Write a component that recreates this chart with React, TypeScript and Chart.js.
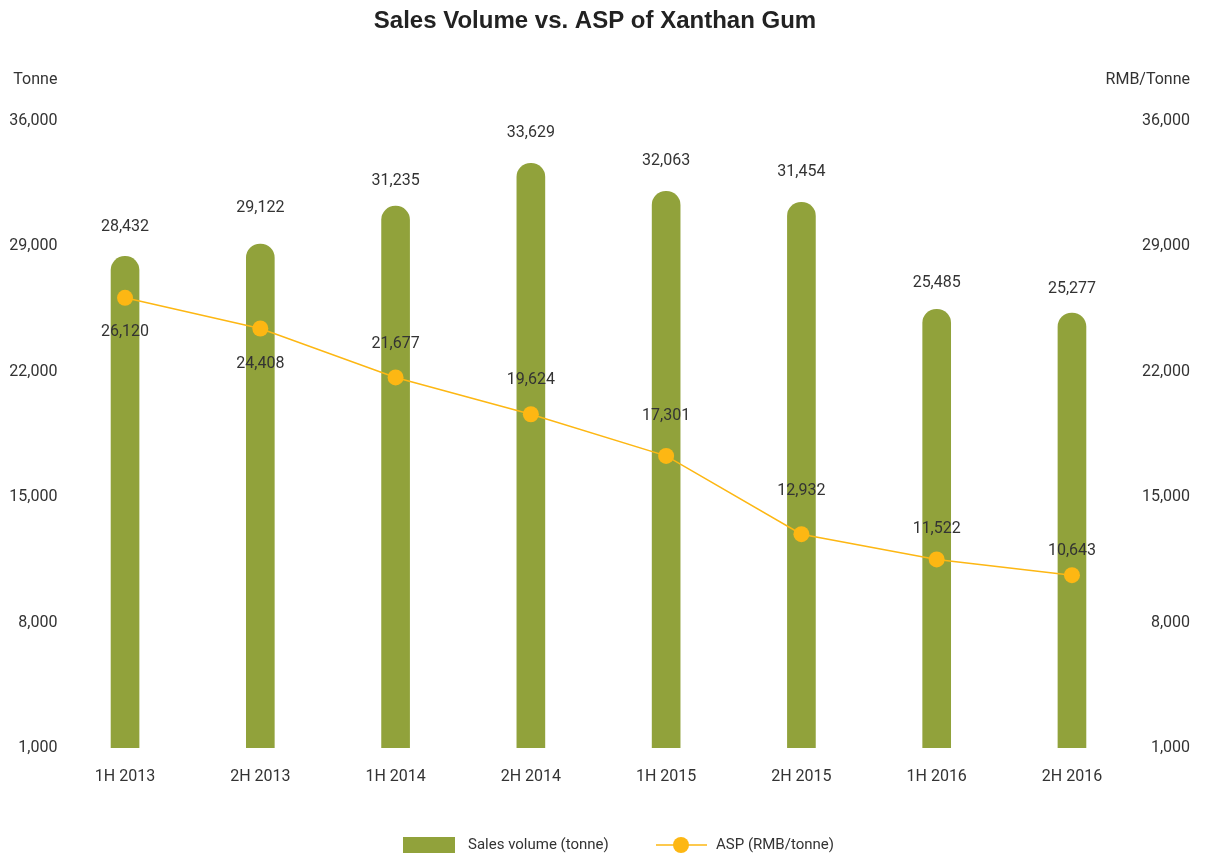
import React, { useEffect, useRef } from "react";
import { Chart, registerables } from "chart.js";

Chart.register(...registerables);

const categories = ["1H 2013", "2H 2013", "1H 2014", "2H 2014", "1H 2015", "2H 2015", "1H 2016", "2H 2016"];
const salesVolume = [28432, 29122, 31235, 33629, 32063, 31454, 25485, 25277];
const asp = [26120, 24408, 21677, 19624, 17301, 12932, 11522, 10643];
const axisMin = 1000;
const axisMax = 36000;
const axisStep = 7000;
// label offsets (style): pixels from mark to label centre
const barLabelOffsets = [-29, -36, -25, -30, -30, -30, -26, -24];
const aspLabelOffsets = [34, 35, -33, -34, -40, -43, -30, -24];

const BAR_COLOR = "#91a23b";
const LINE_COLOR = "#fdb713";
const TEXT_COLOR = "#333333";
const FONT = "Roboto, 'Liberation Sans', sans-serif";

const fmt = (v: number) => v.toLocaleString("en-US");

const overlayPlugin = {
  id: "overlay",
  afterDatasetsDraw(chart: any) {
    const ctx = chart.ctx;
    ctx.save();
    ctx.font = `16px ${FONT}`;
    ctx.fillStyle = TEXT_COLOR;
    ctx.textAlign = "center";
    ctx.textBaseline = "middle";
    const barMeta = chart.getDatasetMeta(0);
    barMeta.data.forEach((el: any, i: number) => {
      ctx.fillText(fmt(salesVolume[i]), el.x, el.y + barLabelOffsets[i]);
    });
    const lineMeta = chart.getDatasetMeta(1);
    lineMeta.data.forEach((el: any, i: number) => {
      ctx.fillText(fmt(asp[i]), el.x, el.y + aspLabelOffsets[i]);
    });
    // axis unit titles
    const yl = chart.scales.y;
    const yr = chart.scales.y1;
    ctx.textAlign = "right";
    ctx.fillText("Tonne", yl.right, 80);
    ctx.fillText("RMB/Tonne", yr.right, 80);
    // legend
    const ly = 845;
    ctx.fillStyle = BAR_COLOR;
    ctx.fillRect(403, ly - 8, 52, 16);
    ctx.fillStyle = TEXT_COLOR;
    ctx.textAlign = "left";
    ctx.font = `15px ${FONT}`;
    ctx.fillText("Sales volume (tonne)", 468, ly);
    ctx.strokeStyle = LINE_COLOR;
    ctx.lineWidth = 1.5;
    ctx.beginPath();
    ctx.moveTo(656, ly);
    ctx.lineTo(707, ly);
    ctx.stroke();
    ctx.fillStyle = LINE_COLOR;
    ctx.beginPath();
    ctx.arc(681, ly, 8, 0, Math.PI * 2);
    ctx.fill();
    ctx.fillStyle = TEXT_COLOR;
    ctx.fillText("ASP (RMB/tonne)", 716, ly);
    ctx.restore();
  },
};

export default function App() {
  const ref = useRef<HTMLCanvasElement>(null);
  useEffect(() => {
    document.body.style.margin = "0";
    const canvas = ref.current!;
    const chart = new Chart(canvas, {
      type: "bar",
      data: {
        labels: categories,
        datasets: [
          {
            type: "bar",
            label: "Sales volume (tonne)",
            data: salesVolume,
            backgroundColor: BAR_COLOR,
            borderRadius: { topLeft: 14, topRight: 14, bottomLeft: 0, bottomRight: 0 },
            borderSkipped: false,
            barThickness: 28,
            yAxisID: "y",
            order: 2,
          },
          {
            type: "line",
            label: "ASP (RMB/tonne)",
            data: asp,
            borderColor: LINE_COLOR,
            backgroundColor: LINE_COLOR,
            borderWidth: 1.5,
            pointRadius: 8,
            pointHoverRadius: 8,
            pointBorderWidth: 0,
            pointBackgroundColor: LINE_COLOR,
            tension: 0,
            yAxisID: "y1",
            order: 1,
          },
        ],
      },
      options: {
        responsive: false,
        animation: false,
        layout: { padding: { left: 0, right: 20, top: 0, bottom: 0 } },
        plugins: {
          legend: { display: false },
          tooltip: { enabled: false },
          title: {
            display: true,
            text: "Sales Volume vs. ASP of Xanthan Gum",
            color: "#222222",
            font: { family: "'Liberation Sans', Arial, sans-serif", size: 24, weight: "bold" },
            padding: { top: 7, bottom: 85 },
          },
        },
        scales: {
          x: {
            grid: { display: false, drawTicks: false },
            border: { display: false },
            ticks: { color: TEXT_COLOR, font: { family: FONT, size: 16 }, padding: 19 },
            afterFit: (s: any) => {
              s.height = 107;
            },
          },
          y: {
            position: "left",
            min: axisMin,
            max: axisMax,
            grid: { display: false, drawTicks: false },
            border: { display: false },
            ticks: {
              stepSize: axisStep,
              padding: 0,
              color: TEXT_COLOR,
              font: { family: FONT, size: 16 },
              callback: (v: any) => fmt(Number(v)),
            },
            afterFit: (s: any) => {
              s.width = 57.4;
            },
          },
          y1: {
            position: "right",
            min: axisMin,
            max: axisMax,
            grid: { display: false, drawTicks: false },
            border: { display: false },
            ticks: {
              stepSize: axisStep,
              padding: 0,
              crossAlign: "far",
              color: TEXT_COLOR,
              font: { family: FONT, size: 16 },
              callback: (v: any) => fmt(Number(v)),
            },
            afterFit: (s: any) => {
              s.width = 50.4;
            },
          },
        },
      },
      plugins: [overlayPlugin],
    } as any);
    return () => chart.destroy();
  }, []);
  return (
    <div style={{ width: 1210, height: 855 }}>
      <canvas ref={ref} width={1210} height={855} style={{ display: "block" }} />
    </div>
  );
}
